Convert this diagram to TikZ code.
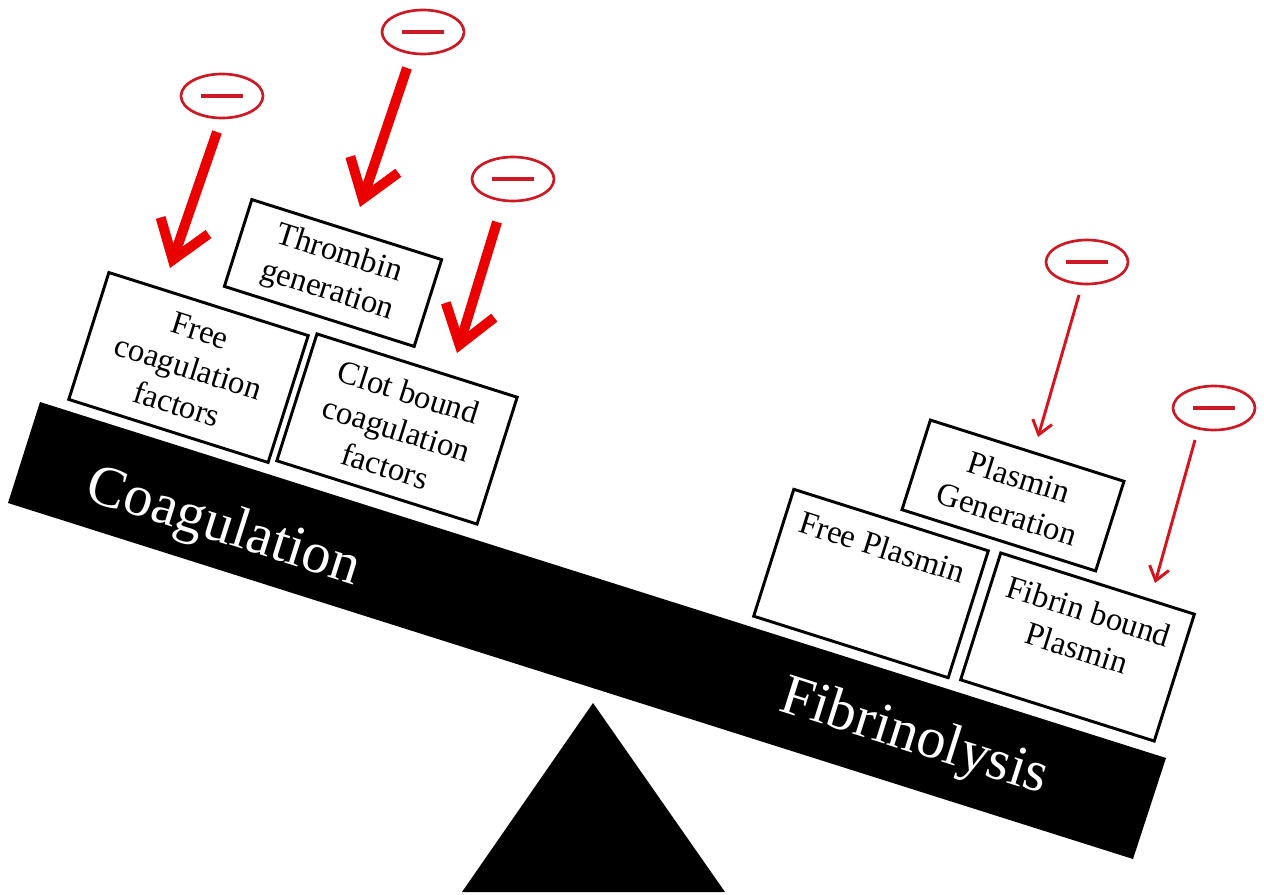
\documentclass[tikz,border=0pt]{standalone}
\usepackage{fontspec}
\setmainfont{Liberation Serif}
\usetikzlibrary{shapes.geometric,arrows.meta,calc}
\definecolor{arrred}{RGB}{235,0,0}
\definecolor{arrredthin}{RGB}{215,20,30}
\definecolor{ellred}{RGB}{205,25,35}
\begin{document}
\begin{tikzpicture}[x=0.75pt,y=0.75pt,
  box/.style={draw, line width=2.2pt, fill=white, rotate=-17.55, align=center,
    font=\fontsize{24.5}{29}\selectfont, inner sep=0pt},
  boxtext/.style={rotate=-17.55, align=center, font=\fontsize{24.5}{29}\selectfont, inner sep=0pt},
  minus/.style={ellipse, draw=ellred, line width=2pt, minimum width=61.5pt,
    minimum height=33pt, inner sep=0pt,
    path picture={\draw[ellred, line width=3pt]
      ([xshift=-15.75pt]path picture bounding box.center) --
      ([xshift=15.75pt]path picture bounding box.center);}},
  bigarrow/.style={draw=arrred, line width=7.5pt, -{Straight Barb[length=27pt, width=38pt]}},
  thinarrow/.style={draw=arrredthin, line width=2.2pt, -{Straight Barb[length=10pt, width=15pt]}},
  beamtext/.style={text=white, font=\fontsize{43.5}{50}\selectfont, rotate=-17.55,
    anchor=base, inner sep=0pt}]
\useasboundingbox (0,0) rectangle (1264,-895);

% beam and fulcrum
\fill[black] (40,-402) -- (1166,-758) -- (1133,-859) -- (8,-503) -- cycle;
\fill[black] (593,-703) -- (725,-892) -- (462,-892) -- cycle;
\node[beamtext] (coag) at (219,-542) {Coagulation};
\node[beamtext] (fib) at (910,-752) {Fibrinolysis};

% coagulation boxes
\node[box, minimum width=156.8pt, minimum height=99.8pt] (fcf) at (188.5,-367.5) {Free\\coagulation\\factors};
\node[box, minimum width=149.3pt, minimum height=68.3pt] (thr) at (333,-273) {Thrombin\\generation};
\node[box, minimum width=157.5pt, minimum height=99.8pt] (cbf) at (397,-429) {Clot bound\\coagulation\\factors};

% fibrinolysis boxes
\node[box, minimum width=152.3pt, minimum height=70.5pt] (pg) at (1013,-495.5) {Plasmin\\Generation};
\node[box, minimum width=153pt, minimum height=99.8pt] (fp) at (871,-583.5) {};
\node[boxtext] (fpt) at ($(fp.north)!0.218!(fp.south)$) {Free Plasmin};
\node[box, minimum width=152.3pt, minimum height=99.8pt] (fbp) at (1077.5,-647) {};
\node[boxtext] (fbpt) at ($(fbp.north)!0.367!(fbp.south)$) {Fibrin bound\\Plasmin};

% inhibition symbols
\node[minus] (m1) at (222,-96) {};
\node[minus] (m2) at (423,-32) {};
\node[minus] (m3) at (513,-179) {};
\node[minus] (m4) at (1087,-262) {};
\node[minus] (m5) at (1214,-408) {};

% arrow end points
\coordinate (s1) at (217,-132);
\coordinate (t1) at (170,-268);
\coordinate (s2) at (407,-68);
\coordinate (t2) at (360,-207);
\coordinate (s3) at (497,-222);
\coordinate (t3) at (457,-353);
\coordinate (s4) at (1079,-295);
\coordinate (t4) at (1038,-437);
\coordinate (s5) at (1195,-440);
\coordinate (t5) at (1155,-583);

\draw[bigarrow] (s1) -- (t1);
\draw[bigarrow] (s2) -- (t2);
\draw[bigarrow] (s3) -- (t3);
\draw[thinarrow] (s4) -- (t4);
\draw[thinarrow] (s5) -- (t5);
\end{tikzpicture}
\end{document}
